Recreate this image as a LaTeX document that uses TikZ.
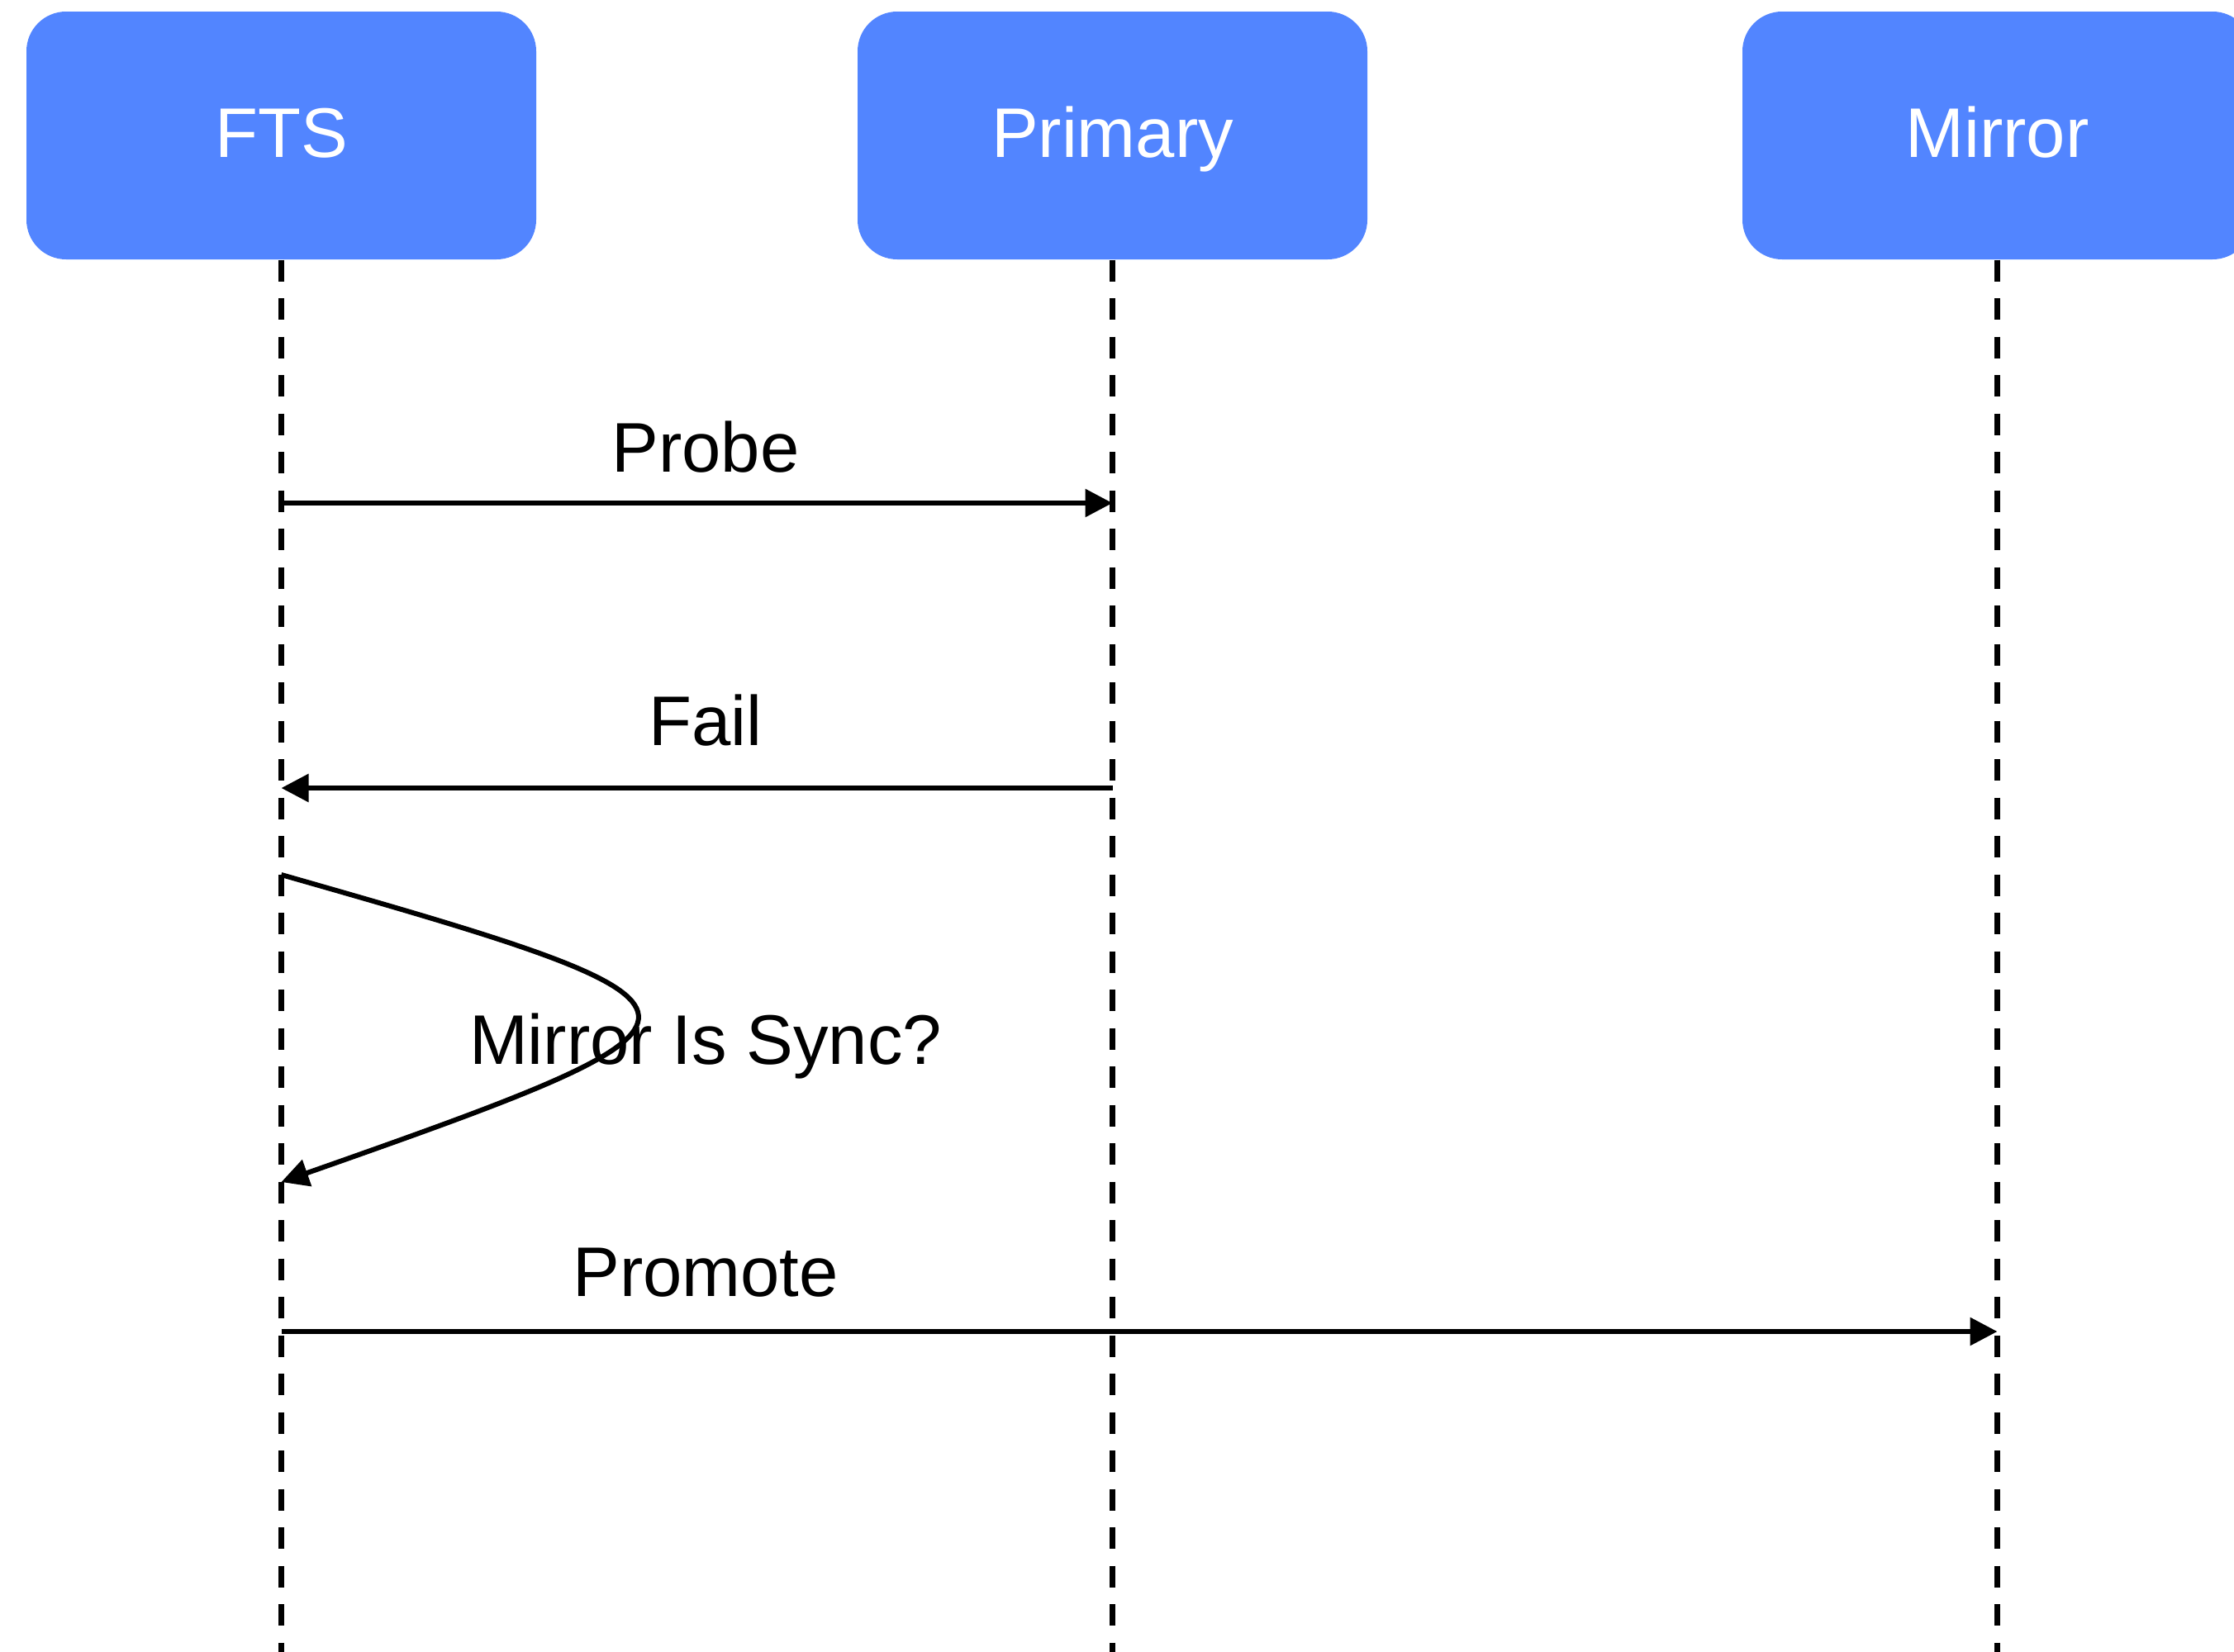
\documentclass[tikz,border=0pt]{standalone}
\usepackage{fontspec}
\setmainfont{Liberation Sans}
\usetikzlibrary{arrows.meta}
\definecolor{actorblue}{HTML}{5285FF}
\tikzset{
  actor/.style={fill=actorblue, draw=none, rounded corners=0.48cm,
    minimum width=6.17cm, minimum height=3.0cm, inner sep=0pt,
    text=white, text height=0.52cm, text depth=0pt,
    font=\fontsize{24.2}{29}\selectfont},
  lifeline/.style={line width=0.07cm, dash pattern=on 0.26cm off 0.205cm},
  msg/.style={line width=0.06cm, -{Triangle[length=0.33cm, width=0.33cm]}},
  msglabel/.style={anchor=base, inner sep=0pt, font=\fontsize{24.2}{29}\selectfont}
}
\begin{document}
\begin{tikzpicture}
\useasboundingbox (0,0) rectangle (27.04,-20);
\begin{scope}
\clip (0,0) rectangle (27.04,-20);

% participants
\node[actor] (fts)     at (3.405,-1.64)  {FTS};
\node[actor] (primary) at (13.465,-1.64) {Primary};
\node[actor] (mirror)  at (24.175,-1.64) {Mirror};

% lifelines
\coordinate (bottom) at (0,-20);
\draw[lifeline] (fts.south)     -- (fts.south |- bottom);
\draw[lifeline] (primary.south) -- (primary.south |- bottom);
\draw[lifeline] (mirror.south)  -- (mirror.south |- bottom);

% message anchor points on the lifelines
\coordinate (probeA) at (fts.south |- 0,-6.09);
\coordinate (probeB) at (primary.south |- 0,-6.09);
\coordinate (failA)  at (primary.south |- 0,-9.54);
\coordinate (failB)  at (fts.south |- 0,-9.54);
\coordinate (loopA)  at (fts.south |- 0,-10.59);
\coordinate (loopB)  at (fts.south |- 0,-14.31);
\coordinate (promA)  at (fts.south |- 0,-16.12);
\coordinate (promB)  at (mirror.south |- 0,-16.12);

% messages
\draw[msg] (probeA) -- (probeB);
\draw[msg] (failA) -- (failB);
\draw[msg] (loopA) .. controls (9.12,-12.22) and (9.12,-12.30) .. (loopB);
\draw[msg] (promA) -- (promB);

% message labels
\node[msglabel] (probeLbl) at (8.54,-5.71)  {Probe};
\node[msglabel] (failLbl)  at (8.54,-9.02)  {Fail};
\node[msglabel] (syncLbl)  at (8.54,-12.88) {Mirror Is Sync?};
\node[msglabel] (promLbl)  at (8.54,-15.69) {Promote};
\end{scope}
\end{tikzpicture}
\end{document}
